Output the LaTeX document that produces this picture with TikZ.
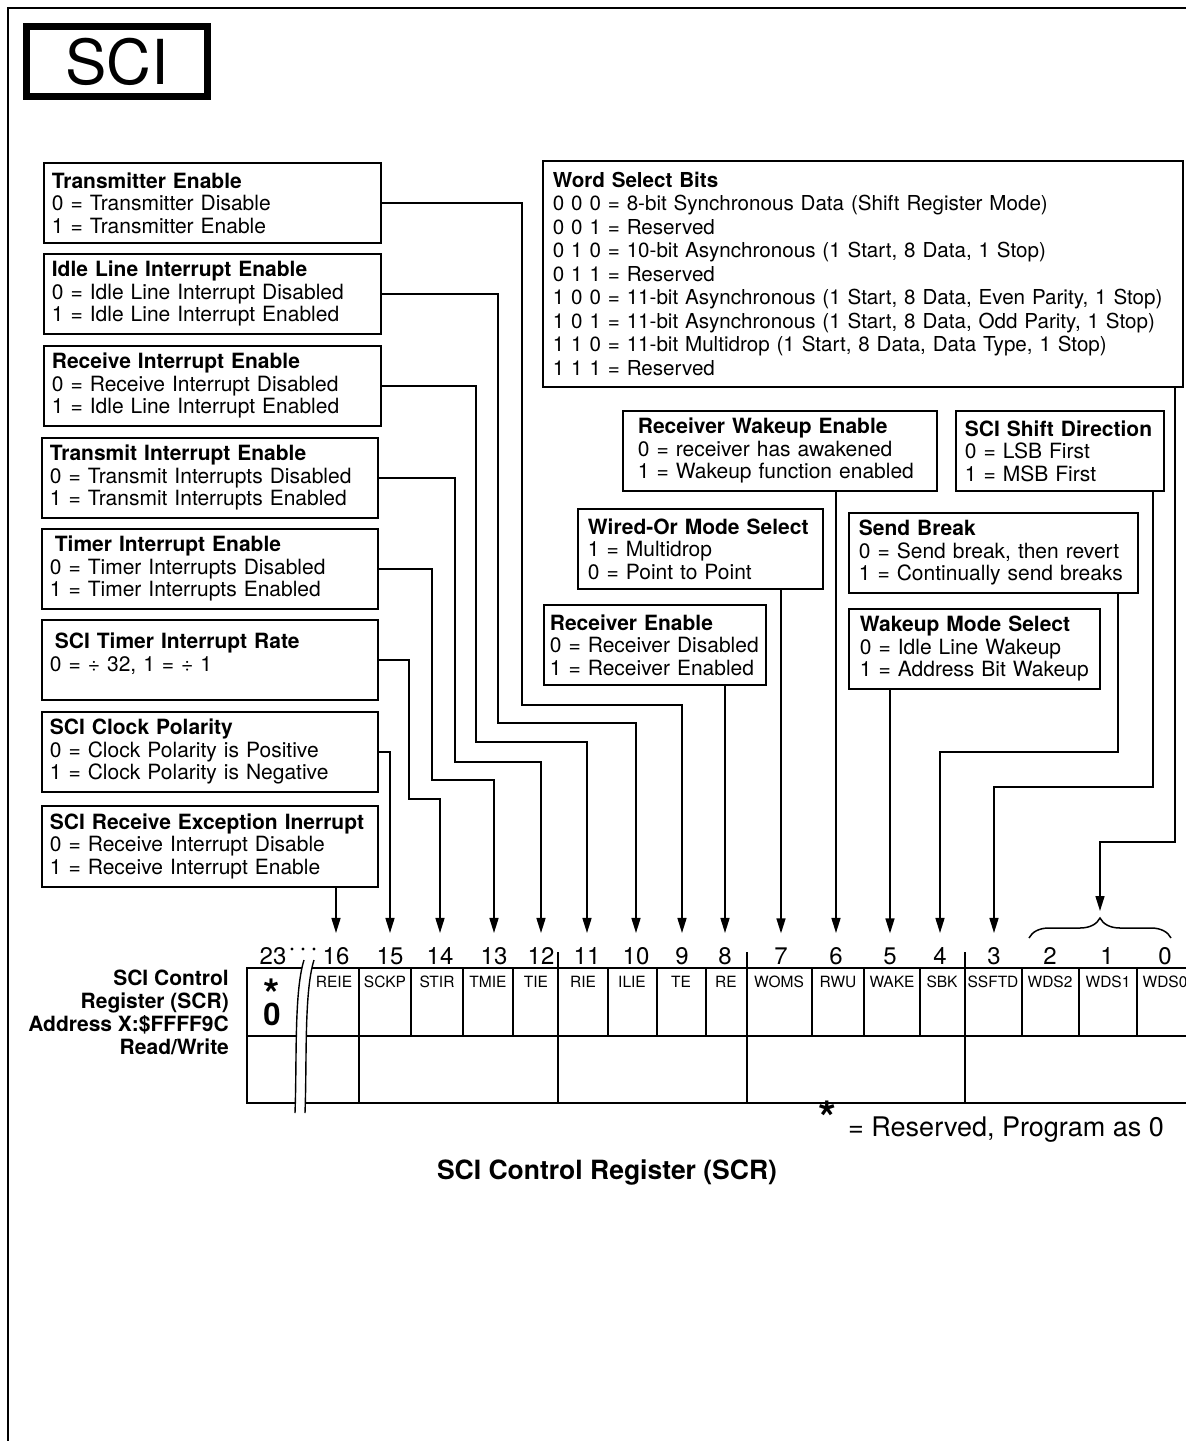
\documentclass[tikz,border=0pt]{standalone}
\usepackage{fontspec}
\setmainfont{TeX Gyre Heros}
\usetikzlibrary{positioning,arrows.meta,decorations.pathreplacing}

\newcommand{\boxfont}{\fontsize{21}{22.5}\selectfont}

\begin{document}
\begin{tikzpicture}[x=1pt, y=-1pt,
		infobox/.style={draw, line width=1.8pt, anchor=north west, align=left, inner ysep=2pt, font=\boxfont},
		wire/.style={line width=1.5pt},
		tip/.style={-{Triangle[length=15pt,width=9pt]}},
		reg/.style={line width=1.8pt},
		bitnum/.style={font=\fontsize{24}{24}\selectfont, inner sep=0pt, outer ysep=14pt, anchor=base},
		bitname/.style={font=\fontsize{15.5}{16}\selectfont, inner sep=0pt}]
		\useasboundingbox (0,0) rectangle (1186,1441);
		\draw[line width=2pt] (8,1441) -- (8,8) -- (1186,8);

		\node[draw, line width=7pt, minimum width=181pt, minimum height=70pt, inner sep=0pt, font=\fontsize{62}{62}\selectfont] (sci) at (117,61.5) {SCI};

		% 左侧说明框
		\node[infobox, inner xsep=8pt, text width=321pt, minimum height=80pt] (txen) at (43,162) {\textbf{Transmitter Enable}\\0 = Transmitter Disable\\1 = Transmitter Enable};
		\node[infobox, inner xsep=8pt, text width=321pt, minimum height=80pt] (idle) at (43,253) {\textbf{Idle Line Interrupt Enable}\\0 = Idle Line Interrupt Disabled\\1 = Idle Line Interrupt Enabled};
		\node[infobox, inner xsep=8pt, text width=321pt, minimum height=80pt] (rxint) at (43,345) {\textbf{Receive Interrupt Enable}\\0 = Receive Interrupt Disabled\\1 = Idle Line Interrupt Enabled};
		\node[infobox, inner xsep=8pt, text width=320pt, minimum height=80pt] (txint) at (41,437) {\textbf{Transmit Interrupt Enable}\\0 = Transmit Interrupts Disabled\\1 = Transmit Interrupts Enabled};
		\node[infobox, inner xsep=8pt, text width=320pt, minimum height=80pt] (timer) at (41,528) {\hspace*{5pt}\textbf{Timer Interrupt Enable}\\0 = Timer Interrupts Disabled\\1 = Timer Interrupts Enabled};
		\node[infobox, inner xsep=8pt, text width=320pt, minimum height=80pt, text depth=38pt] (rate) at (41,619) {\hspace*{5pt}\textbf{SCI Timer Interrupt Rate}\\0 = ÷ 32, 1 = ÷ 1};
		\node[infobox, inner xsep=8pt, text width=320pt, minimum height=80pt] (clock) at (41,711) {\textbf{SCI Clock Polarity}\\0 = Clock Polarity is Positive\\1 = Clock Polarity is Negative};
		\node[infobox, inner xsep=8pt, text width=320pt, minimum height=81pt] (rxexc) at (41,805) {\textbf{SCI Receive Exception Inerrupt}\\0 = Receive Interrupt Disable\\1 = Receive Interrupt Enable};

		% 右侧说明框
		\node[infobox, inner xsep=10pt, text width=620pt, minimum height=226pt, font=\fontsize{20.6}{23.5}\selectfont] (wsel) at (542,160) {\textbf{Word Select Bits}\\0 0 0 = 8-bit Synchronous Data (Shift Register Mode)\\0 0 1 = Reserved\\0 1 0 = 10-bit Asynchronous (1 Start, 8 Data, 1 Stop)\\0 1 1 = Reserved\\1 0 0 = 11-bit Asynchronous (1 Start, 8 Data, Even Parity, 1 Stop)\\1 0 1 = 11-bit Asynchronous (1 Start, 8 Data, Odd Parity, 1 Stop)\\1 1 0 = 11-bit Multidrop (1 Start, 8 Data, Data Type, 1 Stop)\\1 1 1 = Reserved};
		\node[infobox, inner xsep=15pt, text width=284pt, minimum height=80pt] (rwu) at (622,410) {\textbf{Receiver Wakeup Enable}\\0 = receiver has awakened\\1 = Wakeup function enabled};
		\node[infobox, inner xsep=9pt, text width=190pt, minimum height=80pt] (shift) at (955,410) {\textbf{SCI Shift Direction}\\0 = LSB First\\1 = MSB First};
		\node[infobox, inner xsep=10pt, text width=225pt, minimum height=80pt] (wired) at (577,508) {\textbf{Wired-Or Mode Select}\\1 = Multidrop\\0 = Point to Point};
		\node[infobox, inner xsep=10pt, text width=269pt, minimum height=80pt] (sbrk) at (848,512) {\textbf{Send Break}\\0 = Send break, then revert\\1 = Continually send breaks};
		\node[infobox, inner xsep=6pt, text width=210pt, minimum height=80pt] (rxen) at (543,604) {\textbf{Receiver Enable}\\0 = Receiver Disabled\\1 = Receiver Enabled};
		\node[infobox, inner xsep=11pt, text width=229pt, minimum height=80pt] (wmode) at (848,608) {\textbf{Wakeup Mode Select}\\0 = Idle Line Wakeup\\1 = Address Bit Wakeup};

		% 位号
		\foreach \b/\x in {23/273,16/336,15/390,14/440,13/494,12/541,11/587,10/636,9/682,8/725,7/781,6/836,5/890,4/940,3/994,2/1050,1/1107,0/1165}
			\node[bitnum] (d\b) at (\x,964) {\b};
		\foreach \x in {292,303,314}
			\fill (\x,949) circle (1.6pt);

		% 寄存器
		\draw[reg] (1186,968) -- (247,968) -- (247,1103) -- (1186,1103);
		\draw[reg] (247,1036) -- (1186,1036);
		\foreach \x in {411,463,513,608,657,706,812,864,920,1022,1079,1137}
			\draw[reg] (\x,968) -- (\x,1036);
		\foreach \x in {558,747,965}
			\draw[reg] (\x,952) -- (\x,1103);
		\draw[reg] (359,968) -- (359,1103);
		\fill[white] (304,960) .. controls (294,992) and (297,1060) .. (295,1113) -- (305,1113) .. controls (307,1060) and (304,992) .. (314,960) -- cycle;
		\draw[line width=1.4pt] (304,960) .. controls (294,992) and (297,1060) .. (295,1113);
		\draw[line width=1.4pt] (314,960) .. controls (304,992) and (307,1060) .. (305,1113);

		\foreach \n/\x in {REIE/334,SCKP/385,STIR/437,TMIE/488,TIE/536,RIE/583,ILIE/632,TE/681,RE/726,WOMS/779,RWU/838,WAKE/892,SBK/942,SSFTD/993,WDS2/1050,WDS1/1108,WDS0/1165}
			\node[bitname] (c\n) at (\x,982) {\n};
		\node[font=\bfseries\fontsize{42}{42}\selectfont, inner sep=0pt, anchor=base] (rsvstar) at (272,1009) {*};
		\node[font=\bfseries\fontsize{31}{31}\selectfont, inner sep=0pt, anchor=base] (rsvzero) at (272,1025) {0};

		\node[font=\bfseries\fontsize{21}{23}\selectfont, align=right, anchor=east, inner sep=0pt] (scrinfo) at (229,1012) {SCI Control\\Register (SCR)\\Address X:\$FFFF9C\\Read/Write};

		\node[font=\bfseries\fontsize{46}{46}\selectfont, inner sep=0pt, anchor=base] (notestar) at (827,1134) {*};
		\node[font=\fontsize{27}{27}\selectfont, inner sep=0pt, anchor=base west] (note) at (848,1136) {= Reserved, Program as 0};
		\node[font=\bfseries\fontsize{26.5}{26.5}\selectfont, inner sep=0pt, anchor=base] (title) at (607,1179) {SCI Control Register (SCR)};

		% 连线
		\draw[wire, tip] (txen.east) -| (522,705) -| (d9.north);
		\draw[wire, tip] (idle.east) -| (498,723) -| (d10.north);
		\draw[wire, tip] (rxint.east) -| (476,742) -| (d11.north);
		\draw[wire, tip] (txint.east) -| (455,762) -| (d12.north);
		\draw[wire, tip] (timer.east) -| (432,780) -| (d13.north);
		\draw[wire, tip] (rate.east) -| (409,799) -| (d14.north);
		\draw[wire, tip] (clock.east) -| (d15.north);
		\draw[wire, tip] (rxexc.south -| d16.north) -- (d16.north);

		\draw[wire, tip] (rxen.south -| d8.north) -- (d8.north);
		\draw[wire, tip] (wired.south -| d7.north) -- (d7.north);
		\draw[wire, tip] (rwu.south -| d6.north) -- (d6.north);
		\draw[wire, tip] (wmode.south -| d5.north) -- (d5.north);
		\draw[wire, tip] (sbrk.south -| 1118,0) |- (d4.north |- 0,752) -- (d4.north);
		\draw[wire, tip] (shift.south -| 1153,0) |- (d3.north |- 0,787) -- (d3.north);

		\coordinate (wtip) at (1100,911);
		\draw[wire, tip] (wsel.south -| 1175,0) |- (1100,842) -- (wtip);
		\draw[wire, decorate, decoration={brace, amplitude=20pt}] (1029,938) -- (1171,938);
	\end{tikzpicture}
\end{document}
